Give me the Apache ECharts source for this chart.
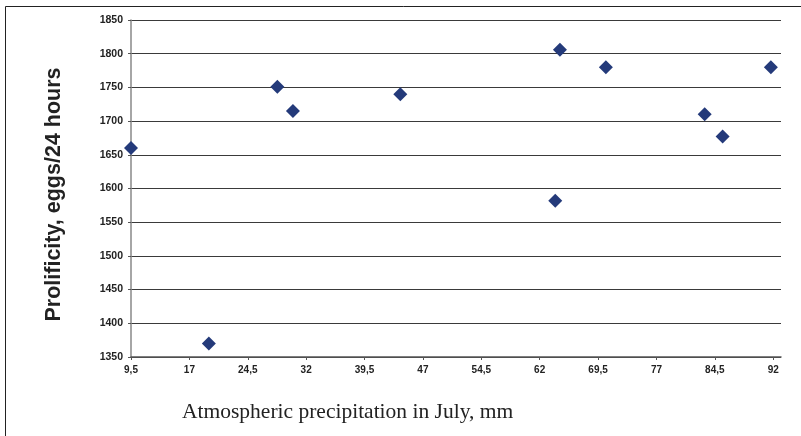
<!DOCTYPE html>
<html>
<head>
<meta charset="utf-8">
<script src="https://cdn.jsdelivr.net/npm/echarts@6/dist/echarts.min.js"></script>
<style>
  html, body { margin: 0; padding: 0; background: #fff; }
  #chart { width: 801px; height: 436px; }
</style>
</head>
<body>
<div id="chart"></div>
<script>
// precipitation in July (mm) and prolificity (eggs/24 h)
var precipitation = [9.5, 19.5, 28.3, 30.3, 44.1, 64.6, 64.0, 70.5, 83.2, 85.5, 91.7];
var prolificity   = [1660, 1370, 1751, 1715, 1740, 1806, 1582, 1780, 1710, 1677, 1780];
var xTicks = [9.5, 17, 24.5, 32, 39.5, 47, 54.5, 62, 69.5, 77, 84.5, 92];

var points = precipitation.map(function (x, i) { return [x, prolificity[i]]; });

var myChart = echarts.init(document.getElementById('chart'));
var option = {
    animation: false,
    title: {
        text: 'Atmospheric precipitation in July, mm',
        left: 182,
        top: 401,
        textStyle: { fontFamily: 'Liberation Serif', fontWeight: 'normal', fontSize: 21.5, color: '#222' },
        padding: 0
    },
    graphic: [{
        type: 'rect',
        shape: { x: 5.5, y: 6.5, width: 900, height: 500 },
        style: { fill: 'none', stroke: '#222', lineWidth: 1 },
        silent: true
    }],
    grid: { left: 131, right: 20, top: 20, bottom: 79 },
    xAxis: {
        type: 'value',
        min: 9.5,
        max: 93,
        axisLine: { lineStyle: { color: '#555', width: 1.5 } },
        axisTick: { show: true, length: 3, customValues: xTicks, lineStyle: { color: '#555' } },
        axisLabel: {
            customValues: xTicks,
            fontFamily: 'Liberation Sans', fontWeight: 'bold', fontSize: 10, color: '#222', margin: 8,
            formatter: function (v) { return String(v).replace('.', ','); }
        },
        splitLine: { show: false }
    },
    yAxis: {
        type: 'value',
        min: 1350,
        max: 1850,
        interval: 50,
        name: 'Prolificity, eggs/24 hours',
        nameLocation: 'middle',
        nameGap: 66,
        nameTextStyle: {
            fontFamily: 'Liberation Sans', fontWeight: 'bold', fontSize: 21.5, color: '#222',
            padding: [0, 12, 0, 0]
        },
        axisLine: { show: true, lineStyle: { color: '#888', width: 1.5 } },
        axisTick: { show: true, length: 3, lineStyle: { color: '#555' } },
        axisLabel: {
            fontFamily: 'Liberation Sans', fontWeight: 'bold', fontSize: 10.5, color: '#222', margin: 8,
            formatter: function (v) { return String(v); }
        },
        splitLine: { show: true, lineStyle: { color: '#3a3a3a', width: 1 } }
    },
    series: [{
        type: 'scatter',
        data: points,
        symbol: 'diamond',
        symbolSize: 14,
        itemStyle: { color: '#243a7a', opacity: 1 }
    }]
};
myChart.setOption(option);
</script>
</body>
</html>
